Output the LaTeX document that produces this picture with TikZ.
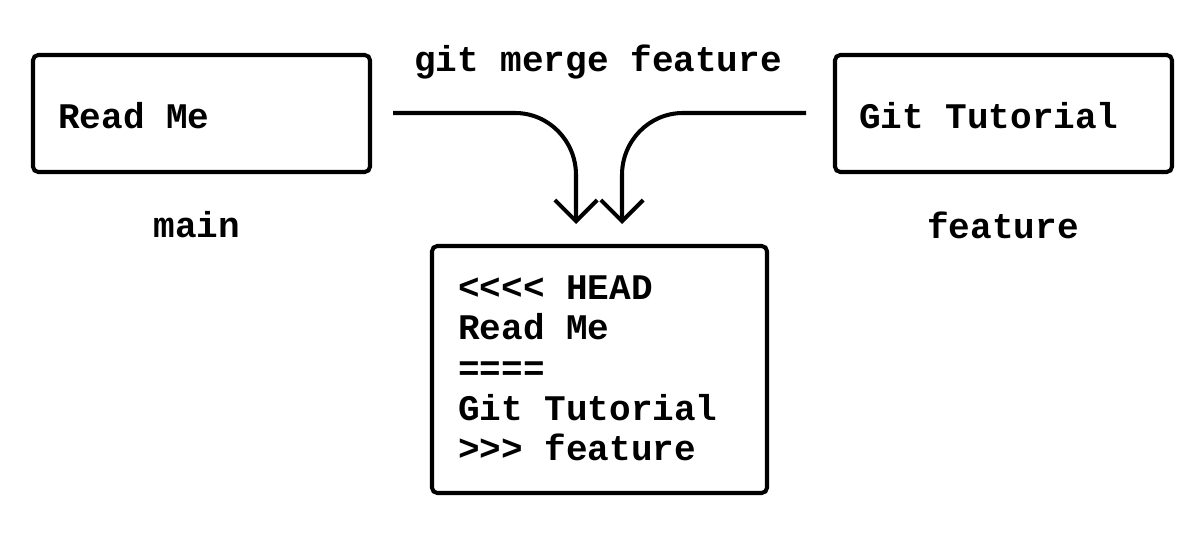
\documentclass[tikz,border=0pt]{standalone}
\usepackage{fontspec}
\setmonofont{Liberation Mono}
\usetikzlibrary{arrows.meta}
\begin{document}
\begin{tikzpicture}[x=0.02cm,y=-0.02cm,
  box/.style={draw,line width=2.3pt,rounded corners=3pt},
  txt/.style={font=\ttfamily\bfseries\fontsize{20.5}{22.8}\selectfont},
  conn/.style={line width=2.3pt,-{Straight Barb[length=12pt,width=24pt,line width=2.3pt]}}]
\useasboundingbox (0,0) rectangle (1200,543);
\draw[box] (33,55) rectangle (370,172);
\draw[box] (835,55) rectangle (1172,172);
\draw[box] (432,246) rectangle (767,493);
\node[txt,anchor=west] (rm) at (52,116) {Read Me};
\node[txt,anchor=west] (gt) at (853,116) {Git Tutorial};
\node[txt] (main) at (197,225) {main};
\node[txt] (feat) at (1003,225) {feature};
\node[txt] (cmd) at (598,62) {git merge feature};
\node[txt,anchor=north west,align=left] (res) at (452,270) {<<<< HEAD\\Read Me\\====\\Git Tutorial\\>>> feature};
\coordinate (l0) at (393,113);
\coordinate (l1) at (576,224);
\coordinate (r0) at (806,113);
\coordinate (r1) at (622,224);
\draw[conn] (l0) -- (515,113) to[out=0,in=90] (576,175) -- (l1);
\draw[conn] (r0) -- (683,113) to[out=180,in=90] (622,175) -- (r1);
\end{tikzpicture}
\end{document}
